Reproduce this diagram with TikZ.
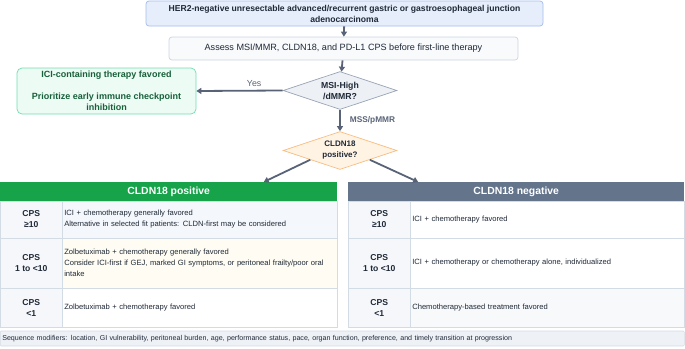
\documentclass[tikz,border=0pt]{standalone}
\usepackage{fontspec}
\setmainfont{Liberation Sans}
\usetikzlibrary{shapes.geometric,arrows.meta,calc}
\definecolor{arrowc}{HTML}{596377}
\definecolor{txt}{HTML}{1F2937}
\definecolor{topfill}{HTML}{E6EEFB}
\definecolor{topdraw}{HTML}{A3BDEC}
\definecolor{boxfill}{HTML}{F8FAFC}
\definecolor{boxdraw}{HTML}{CCD5E1}
\definecolor{grnfill}{HTML}{ECFBF4}
\definecolor{grndraw}{HTML}{72DDB2}
\definecolor{grntxt}{HTML}{17603A}
\definecolor{d1fill}{HTML}{EDF0F4}
\definecolor{d1draw}{HTML}{98A4B6}
\definecolor{d2fill}{HTML}{FFF3E4}
\definecolor{d2draw}{HTML}{F9BD80}
\definecolor{hpos}{HTML}{17A34A}
\definecolor{hneg}{HTML}{64748B}
\definecolor{celldraw}{HTML}{D3DBE5}
\definecolor{lblfill}{HTML}{F5F7FA}
\definecolor{rowa}{HTML}{F4F7FB}
\definecolor{rowy}{HTML}{FFFDF3}
\definecolor{rowg}{HTML}{F7F9FB}
\definecolor{seqfill}{HTML}{EEF2F7}
\begin{document}
\begin{tikzpicture}[x=1pt,y=-1pt,
  every node/.style={text=txt,inner sep=0pt},
  flowbox/.style={draw,rounded corners=3pt,line width=0.7pt,align=center},
  arr/.style={draw=arrowc,line width=1.8pt,-{Triangle[length=5pt,width=6pt]}},
  dia/.style={diamond,aspect=3,draw,line width=0.7pt,align=center,minimum width=114pt,minimum height=38pt,inner sep=0pt},
  hdr/.style={anchor=north west,minimum height=19pt,text=white,font=\fontsize{10.4}{12}\selectfont\bfseries},
  lblcell/.style={anchor=west,draw=celldraw,line width=0.6pt,fill=lblfill,minimum width=62pt,align=center,font=\fontsize{8.6}{11}\selectfont\bfseries},
  txtcell/.style={anchor=west,draw=celldraw,line width=0.6pt,align=left,inner xsep=2pt,font=\fontsize{7.6}{11}\selectfont},
  lbl/.style={text=arrowc,font=\fontsize{8.8}{10}\selectfont}
]
\useasboundingbox (0,0) rectangle (685,348);

% top flow
\node[flowbox,fill=topfill,draw=topdraw,minimum width=397pt,minimum height=25pt,font=\fontsize{8.6}{11}\selectfont\bfseries] (top) at (344.5,13.5)
  {HER2-negative unresectable advanced/recurrent gastric or gastroesophageal junction\\adenocarcinoma};
\node[flowbox,fill=boxfill,draw=boxdraw,minimum width=349pt,minimum height=23pt,font=\fontsize{9.1}{10}\selectfont] (assess) at (343.5,48.5)
  {Assess MSI/MMR, CLDN18, and PD-L1 CPS before first-line therapy};
\node[dia,fill=d1fill,draw=d1draw,font=\fontsize{8.7}{11}\selectfont\bfseries] (msi) at (340,90.5) {MSI-High\\/dMMR?};
\node[flowbox,fill=grnfill,draw=grndraw,rounded corners=5pt,minimum width=179pt,minimum height=46pt,text=grntxt,font=\fontsize{9}{11}\selectfont\bfseries] (ici) at (106.5,91)
  {ICI-containing therapy favored\\[11pt]Prioritize early immune checkpoint\\inhibition};
\node[dia,fill=d2fill,draw=d2draw,font=\fontsize{8}{11}\selectfont\bfseries] (cldn) at (340,150.5) {CLDN18\\positive?};

\draw[arr] (top) -- (assess);
\draw[arr] (assess) -- (msi);
\draw[arr] (msi.west) -- node[lbl,above,pos=0.33,yshift=3pt] {Yes} (ici.east);
\draw[arr] (msi.south) -- node[lbl,right,xshift=9pt,font=\fontsize{8.3}{10}\selectfont\bfseries] {MSS/pMMR} (cldn.north);

% headers
\node[hdr,fill=hpos,minimum width=337pt] (hp) at (0,182) {CLDN18 positive};
\node[hdr,fill=hneg,minimum width=336pt] (hn) at (348,182) {CLDN18 negative};
\draw[arr] ($(cldn.west)!0.48!(cldn.south)$) -- ($(hp.north)+(95,0)$);
\draw[arr] ($(cldn.east)!0.48!(cldn.south)$) -- ($(hn.north)+(-98,0)$);

% left table
\node[lblcell,minimum height=37pt] (pl1) at (0,219.5) {CPS\\≥10};
\node[txtcell,fill=rowa,minimum height=37pt,text width=271pt] (pt1) at (62,219.5)
  {ICI + chemotherapy generally favored\\Alternative in selected fit patients: CLDN-first may be considered};
\node[lblcell,minimum height=50pt] (pl2) at (0,263) {CPS\\1 to <10};
\node[txtcell,fill=rowy,minimum height=50pt,text width=271pt] (pt2) at (62,263)
  {Zolbetuximab + chemotherapy generally favored\\\mbox{Consider ICI-first if GEJ, marked GI symptoms, or peritoneal frailty/poor oral}\\intake};
\node[lblcell,minimum height=39pt] (pl3) at (0,307.5) {CPS\\<1};
\node[txtcell,fill=white,minimum height=39pt,text width=271pt] (pt3) at (62,307.5)
  {Zolbetuximab + chemotherapy favored};

% right table
\node[lblcell,minimum height=37pt] (nl1) at (348,219.5) {CPS\\≥10};
\node[txtcell,fill=white,minimum height=37pt,text width=270pt] (nt1) at (410,219.5)
  {ICI + chemotherapy favored};
\node[lblcell,minimum height=50pt] (nl2) at (348,263) {CPS\\1 to <10};
\node[txtcell,fill=white,minimum height=50pt,text width=270pt] (nt2) at (410,263)
  {ICI + chemotherapy or chemotherapy alone, individualized};
\node[lblcell,minimum height=39pt] (nl3) at (348,307.5) {CPS\\<1};
\node[txtcell,fill=rowg,minimum height=39pt,text width=270pt] (nt3) at (410,307.5)
  {Chemotherapy-based treatment favored};

% sequence modifiers
\node[anchor=west,draw=celldraw,fill=seqfill,line width=0.6pt,rounded corners=1pt,minimum width=684pt,minimum height=15pt,text width=680pt,inner xsep=2pt,align=left,font=\fontsize{7.1}{8}\selectfont] (seq) at (0,338.5)
  {Sequence modifiers: location, GI vulnerability, peritoneal burden, age, performance status, pace, organ function, preference, and timely transition at progression};
\end{tikzpicture}
\end{document}
